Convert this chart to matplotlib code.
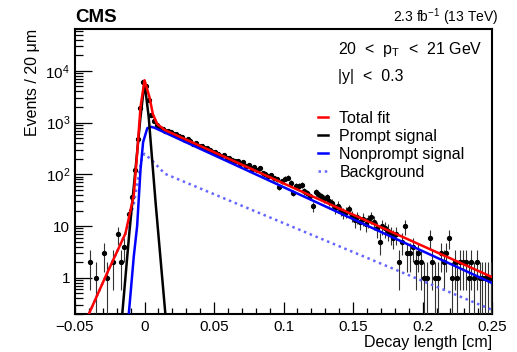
import numpy as np
import matplotlib
matplotlib.use("Agg")
import matplotlib.pyplot as plt
from matplotlib.lines import Line2D
from matplotlib.ticker import FixedLocator, LogLocator, MultipleLocator, NullFormatter

plt.rcParams['font.family'] = ['Liberation Sans', 'DejaVu Sans']
plt.rcParams['mathtext.fontset'] = 'custom'
plt.rcParams['mathtext.rm'] = 'Liberation Sans'
plt.rcParams['mathtext.it'] = 'Liberation Sans:italic'

# data points, bins of 20 um (0.002 cm)
left_x = [-0.039, -0.035, -0.029, -0.027, -0.023, -0.019, -0.017, -0.015, -0.011,
          -0.009, -0.007, -0.005, -0.003, -0.001, 0.001, 0.003, 0.005]
left_n = [2, 1, 3, 1, 2, 7, 2, 4, 17, 36, 120, 490, 1900, 6000, 5000, 2700, 1420]

tail_x = np.arange(0.007, 0.2495, 0.002)
tail_n = [1080, 905, 800, 745, 690, 700, 660, 598, 590, 545,
          520, 470, 478, 440, 395, 402, 360, 355, 320, 318,
          296, 265, 270, 250, 228, 232, 205, 210, 190, 184,
          178, 160, 170, 145, 152, 128, 140, 122, 130, 104,
          103, 92, 96, 85, 80, 57, 74, 83, 86, 68,
          44, 60, 59, 62, 47, 44, 38, 24, 45, 41,
          38, 34, 36, 30, 28, 22, 25, 20, 18, 19,
          21, 16, 13, 15, 12, 14, 11, 13, 15, 12,
          9, 5, 10, 9, 8, 7, 6, 7, 2, 5,
          10, 3, 3, 4, 2, 3, 2, 1, 1, 6,
          2, 1, 1, 3, 2, 3, 6, 1, 2, 1,
          2, 2, 2, 1, 2, 1, 2, 1, 1, 1,
          1, 1]
assert len(tail_n) == len(tail_x)

# fit components
total_x = [-0.040, -0.028, -0.0137, -0.0101, -0.0077, -0.0053, -0.0029, 0.0, 0.0036,
           0.006, 0.0091, 0.0146, 0.25]
total_y = [0.2, 1.06, 7.2, 20, 40, 250, 1970, 6600, 3100, 1470, 940, 720, 1.03]

prompt_x = [-0.016, -0.011, -0.006, -0.003, 0.0, 0.003, 0.008, 0.015]
prompt_y = [0.2, 7, 170, 1200, 6000, 1300, 28, 0.2]

nonprompt_x = [-0.0113, -0.0077, -0.0053, -0.0029, -0.001, 0.002, 0.0045, 0.007, 0.25]
nonprompt_y = [0.2, 2.6, 10, 120, 420, 780, 830, 800, 0.79]

bkg_x = [-0.040, -0.028, -0.0137, -0.0077, -0.004, -0.0017, 0.0, 0.0055, 0.0146, 0.25]
bkg_y = [0.2, 1.06, 7.2, 27, 100, 220, 250, 185, 103, 0.24]

fig = plt.figure(figsize=(5.17, 3.52), dpi=100)
ax = fig.add_axes([0.145, 0.108, 0.807, 0.81])

x = np.concatenate([left_x, tail_x])
n = np.concatenate([left_n, tail_n]).astype(float)
err = np.sqrt(n)
lo = np.where(err >= n, n * 0.999, err)
ax.errorbar(x, n, yerr=[lo, err], xerr=0.001, fmt='o', ms=2.8, color='black',
            ecolor='#333333', elinewidth=0.8, capsize=0, zorder=3)

ax.plot(bkg_x, bkg_y, color='#6666ff', lw=1.8, ls=(0, (1, 1.5)), zorder=4)
ax.plot(nonprompt_x, nonprompt_y, color='#0000ff', lw=1.8, zorder=4)
ax.plot(prompt_x, prompt_y, color='black', lw=1.8, zorder=4)
ax.plot(total_x, total_y, color='#ff0000', lw=1.8, zorder=5)

ax.set_yscale('log')
ax.set_xlim(-0.05, 0.25)
ax.set_ylim(0.2, 6.5e4)

xt = [-0.05, 0, 0.05, 0.1, 0.15, 0.2, 0.25]
ax.xaxis.set_major_locator(FixedLocator(xt))
ax.xaxis.set_minor_locator(MultipleLocator(0.01))
ax.set_xticklabels(['\u22120.05', '0', '0.05', '0.1', '0.15', '0.2', '0.25'])
ax.yaxis.set_major_locator(FixedLocator([1, 10, 100, 1000, 10000]))
ax.set_yticklabels(['1', '10', '$10^2$', '$10^3$', '$10^4$'])
ax.yaxis.set_minor_locator(LogLocator(base=10, subs=np.arange(2, 10)))
ax.yaxis.set_minor_formatter(NullFormatter())

ax.tick_params(which='both', direction='in', top=False, right=False, labelsize=11,
               width=0.9)
ax.tick_params(which='major', length=9)
ax.tick_params(which='minor', length=4.5)
ax.tick_params(axis='y', which='major', length=12)
ax.tick_params(axis='y', which='minor', length=6)
ax.tick_params(axis='x', pad=4)
for s in ax.spines.values():
    s.set_linewidth(1.5)

ax.set_xlabel('Decay length [cm]', fontsize=11.5, loc='right', labelpad=1)
ax.set_ylabel('Events / 20 \u03bcm', fontsize=11.5, loc='top', labelpad=4)

fig.text(0.145, 0.95, 'CMS', fontsize=13.5, fontweight='bold', ha='left', va='center')
fig.text(0.963, 0.95, '2.3 fb$^{-1}$ (13 TeV)', fontsize=10, ha='right', va='center')
ax.text(0.631, 0.926, '20  <  p$_\\mathregular{T}$  <  21 GeV', transform=ax.transAxes,
        fontsize=11.5, ha='left', va='center')
ax.text(0.631, 0.832, '|y|  <  0.3', transform=ax.transAxes,
        fontsize=11.5, ha='left', va='center')

handles = [Line2D([], [], color='#ff0000', lw=1.8),
           Line2D([], [], color='black', lw=1.8),
           Line2D([], [], color='#0000ff', lw=1.8),
           Line2D([], [], color='#6666ff', lw=1.8, ls=(0, (1, 1.5)))]
labels = ['Total fit', 'Prompt signal', 'Nonprompt signal', 'Background']
ax.legend(handles, labels, loc='upper left', bbox_to_anchor=(0.583, 0.712), frameon=False,
          fontsize=11.5, handlelength=0.63, handletextpad=0.7, labelspacing=0.18,
          borderpad=0, borderaxespad=0)

fig.savefig('out.png', dpi=100)
